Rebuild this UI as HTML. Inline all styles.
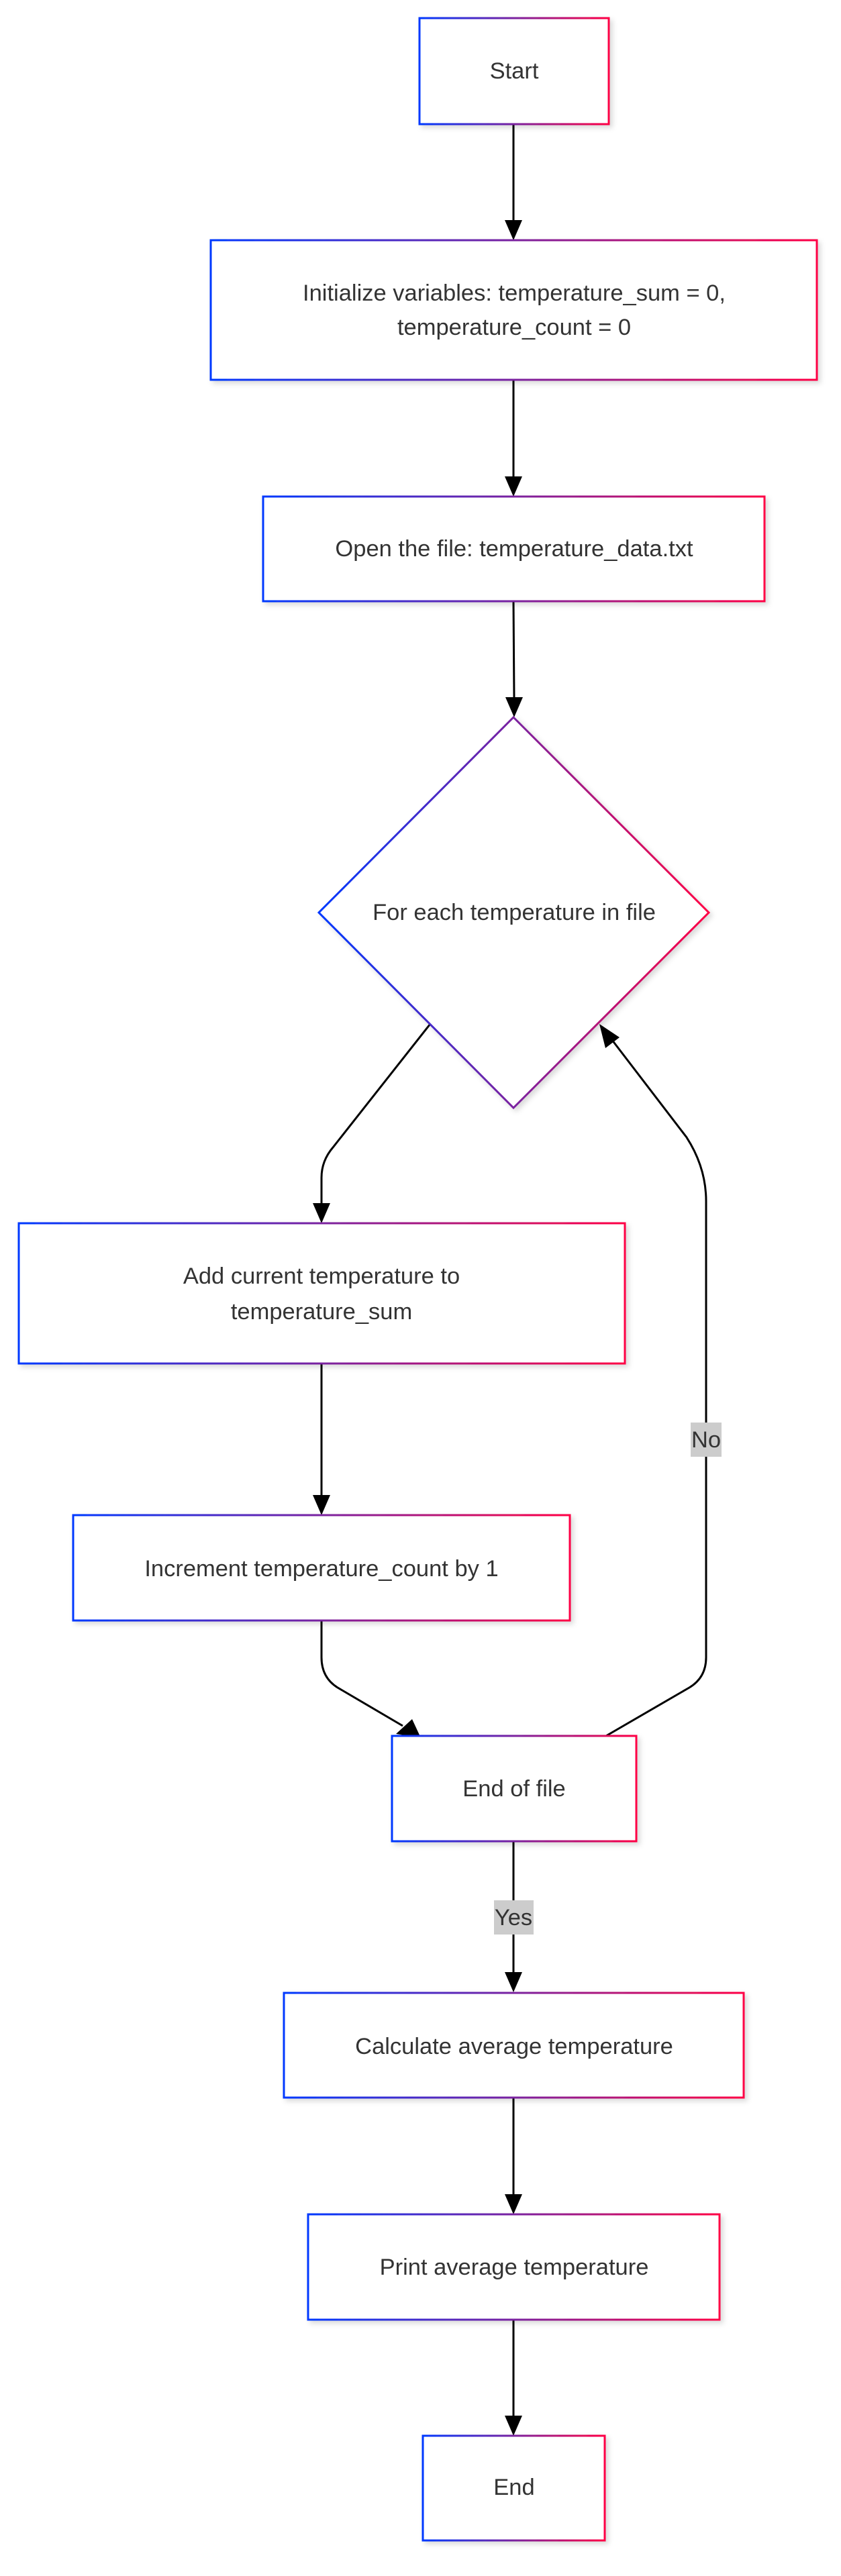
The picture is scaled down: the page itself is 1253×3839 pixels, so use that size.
<!DOCTYPE html>
<html><head><meta charset="utf-8"><style>
html,body{margin:0;padding:0;background:#fff;}
svg{display:block;}
text{font-family:"Liberation Sans",Arial,sans-serif;font-size:34.5px;fill:#333;text-anchor:middle;dominant-baseline:central;}
</style></head><body>
<svg width="1253" height="3839" viewBox="0 0 1253 3839" xmlns="http://www.w3.org/2000/svg">
<defs>
<linearGradient id="g" x1="0" y1="0" x2="1" y2="0">
<stop offset="0" stop-color="#0038ff"/>
<stop offset="0.5" stop-color="#7a22a0"/>
<stop offset="1" stop-color="#ff0044"/>
</linearGradient>
<filter id="sh" x="-10%" y="-10%" width="130%" height="130%">
<feDropShadow dx="4" dy="4" stdDeviation="4" flood-color="#000" flood-opacity="0.15"/>
</filter>
</defs>
<g fill="none" stroke="#000" stroke-width="3">
<line x1="765" y1="185" x2="765" y2="330"/>
<line x1="765" y1="566" x2="765" y2="712"/>
<line x1="765" y1="896" x2="766" y2="1040"/>
<path d="M641,1526 L496,1710 Q479,1730 479,1755 L479,1795"/>
<line x1="479" y1="2032" x2="479" y2="2230"/>
<path d="M479,2415 L479,2470 Q479,2500 503,2515 L600,2572"/>
<path d="M903,2587 L1027,2515 Q1052,2500 1052,2470 L1052,1790 Q1052,1740 1023,1695 L912,1550"/>
<line x1="765" y1="2744" x2="765" y2="2940"/>
<line x1="765" y1="3126" x2="765" y2="3272"/>
<line x1="765" y1="3457" x2="765" y2="3602"/>
</g>
<g fill="#000">
<polygon points="752,328 778,328 765,358"/>
<polygon points="752,710 778,710 765,740"/>
<polygon points="753,1039 779,1039 766,1069"/>
<polygon points="466,1793 492,1793 479,1823"/>
<polygon points="466,2228 492,2228 479,2258"/>
<polygon points="590,2584 614,2562 627,2590"/>
<polygon points="893,1526 923,1546 902,1562"/>
<polygon points="752,2939 778,2939 765,2969"/>
<polygon points="752,3270 778,3270 765,3300"/>
<polygon points="752,3600 778,3600 765,3630"/>
</g>
<g fill="#fff" stroke="url(#g)" stroke-width="3" filter="url(#sh)">
<rect x="625" y="27" width="282" height="158"/>
<rect x="314" y="358" width="903" height="208"/>
<rect x="392" y="740" width="747" height="156"/>
<polygon points="765,1069 1056,1360 765,1651 475,1360"/>
<rect x="28" y="1823" width="903" height="209"/>
<rect x="109" y="2258" width="740" height="157"/>
<rect x="584" y="2587" width="364" height="157"/>
<rect x="423" y="2970" width="685" height="156"/>
<rect x="459" y="3300" width="613" height="157"/>
<rect x="630" y="3630" width="271" height="156"/>
</g>
<rect x="1029" y="2120" width="46" height="51" fill="#cccccc"/>
<rect x="736" y="2832" width="59" height="51" fill="#cccccc"/>
<text x="766" y="106">Start</text>
<text x="766" y="437">Initialize variables: temperature_sum = 0,</text>
<text x="766" y="488">temperature_count = 0</text>
<text x="766" y="818">Open the file: temperature_data.txt</text>
<text x="766" y="1360">For each temperature in file</text>
<text x="479" y="1902">Add current temperature to</text>
<text x="479" y="1955">temperature_sum</text>
<text x="479" y="2338">Increment temperature_count by 1</text>
<text x="766" y="2666">End of file</text>
<text x="766" y="3050">Calculate average temperature</text>
<text x="766" y="3379">Print average temperature</text>
<text x="766" y="3707">End</text>
<text x="1052" y="2146">No</text>
<text x="765" y="2858">Yes</text>
</svg>
</body></html>
